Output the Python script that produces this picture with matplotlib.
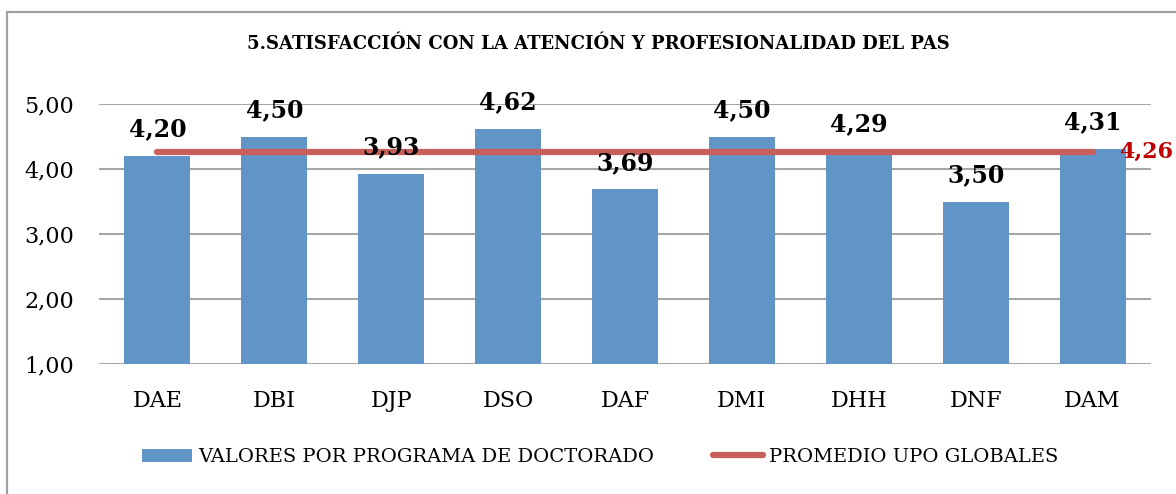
import numpy as np
import matplotlib.pyplot as plt
from matplotlib import font_manager
from matplotlib.patches import Rectangle

programas = ['DAE', 'DBI', 'DJP', 'DSO', 'DAF', 'DMI', 'DHH', 'DNF', 'DAM']
valores = [4.20, 4.50, 3.93, 4.62, 3.69, 4.50, 4.29, 3.50, 4.31]
promedio = 4.26
y_ticks = [1, 2, 3, 4, 5]

titulo = '5.SATISFACCIÓN CON LA ATENCIÓN Y PROFESIONALIDAD DEL PAS'
serie_barras = 'VALORES POR PROGRAMA DE DOCTORADO'
serie_linea = 'PROMEDIO UPO GLOBALES'

azul = '#6195C8'
rojo = '#C85F5A'
gris = '#A6A6A6'


def fmt(v):
    return f'{v:.2f}'.replace('.', ',')


plt.rcParams['font.family'] = ['DejaVu Serif']
nombres = {f.name for f in font_manager.fontManager.ttflist}
print(sorted(n for n in nombres if 'DejaVu' in n or 'Liberation' in n))

fig = plt.figure(figsize=(11.76, 4.94), dpi=100)
ax = fig.add_axes([99 / 1176, 1 - 364 / 494, 1052 / 1176, 260 / 494])

# marco del grafico (solo se ven el borde izquierdo y el superior)
fig.patches.append(Rectangle((7 / 1176, -0.1), 1.2, 1 - 12 / 494 + 0.1, transform=fig.transFigure,
                             fill=False, edgecolor='#A0A0A0', linewidth=1.6))

x = np.arange(len(programas))
barras = ax.bar(x, valores, width=0.565, color=azul, zorder=2)
linea, = ax.plot(x, [promedio] * len(x), color=rojo, linewidth=4.5, solid_capstyle='round',
                 zorder=3)

for xi, v in zip(x, valores):
    ax.annotate(fmt(v), (xi, v), xytext=(0, 14), textcoords='offset points', ha='center',
                va='baseline', fontsize=17, fontweight='bold', color='black', zorder=4,
                annotation_clip=False)

ax.annotate(fmt(promedio), (x[-1], promedio), xytext=(19, 0), textcoords='offset points',
            ha='left', va='center', fontsize=16, fontweight='bold', color='#C00000',
            annotation_clip=False)

ax.set_xlim(-0.5, len(programas) - 0.5)
ax.set_ylim(1, 5)
ax.set_yticks(y_ticks)
ax.set_yticklabels([fmt(t) for t in y_ticks])
ax.set_xticks(x)
ax.set_xticklabels(programas)
ax.tick_params(axis='both', length=0, labelsize=16)
ax.tick_params(axis='x', pad=19)
ax.tick_params(axis='y', pad=18)
ax.grid(axis='y', color=gris, linewidth=1.5, zorder=0)
ax.set_axisbelow(True)
for s in ax.spines.values():
    s.set_visible(False)

fig.text(598 / 1176, 1 - 49 / 494, titulo, ha='center', va='baseline', fontsize=13,
         fontweight='bold')

fig.legend([barras, linea], [serie_barras, serie_linea], loc='center',
           bbox_to_anchor=(600 / 1176, 1 - 457 / 494), ncol=2, frameon=False,
           fontsize=14, handlelength=2.6, handleheight=0.65, handletextpad=0.3,
           columnspacing=3.0)

fig.savefig('out.png', dpi=100)
